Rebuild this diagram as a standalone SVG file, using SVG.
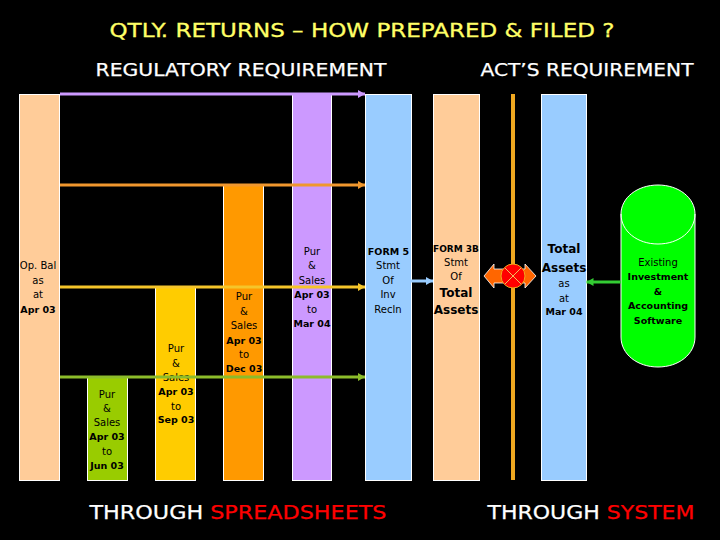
<svg xmlns="http://www.w3.org/2000/svg" width="720" height="540" viewBox="0 0 720 540">
<style>
text{font-family:"DejaVu Sans","Liberation Sans",sans-serif;text-anchor:middle;fill:#000;font-size:10px}
.b{font-weight:bold;font-size:9.5px}
.big{font-size:12px;font-weight:bold}
.h{fill:#ffff66;font-size:19.500px;stroke:#ffff66;stroke-width:.3}
.s{fill:#fff;font-size:17.5px;stroke:#fff;stroke-width:.25}
.t{font-size:20px;fill:#fff;stroke:#fff;stroke-width:.25}
.r{fill:#ff0000;stroke:#ff0000}
.col{stroke:#fff;stroke-width:1}
.ln{fill:none;stroke-width:3}
</style>
<defs>
<marker id="aP" markerUnits="userSpaceOnUse" markerWidth="8" markerHeight="10" refX="7" refY="5" orient="auto"><path d="M0 1L7 5L0 9z" fill="#cc99ff"/></marker>
<marker id="aO" markerUnits="userSpaceOnUse" markerWidth="8" markerHeight="10" refX="7" refY="5" orient="auto"><path d="M0 1L7 5L0 9z" fill="#f0972e"/></marker>
<marker id="aY" markerUnits="userSpaceOnUse" markerWidth="8" markerHeight="10" refX="7" refY="5" orient="auto"><path d="M0 1L7 5L0 9z" fill="#f5c52a"/></marker>
<marker id="aG" markerUnits="userSpaceOnUse" markerWidth="8" markerHeight="10" refX="7" refY="5" orient="auto"><path d="M0 1L7 5L0 9z" fill="#8cbc2a"/></marker>
<marker id="aB" markerUnits="userSpaceOnUse" markerWidth="8" markerHeight="10" refX="7" refY="5" orient="auto"><path d="M0 1L7 5L0 9z" fill="#99ccff"/></marker>
<marker id="aL" markerUnits="userSpaceOnUse" markerWidth="8" markerHeight="10" refX="7" refY="5" orient="auto"><path d="M0 1L7 5L0 9z" fill="#33cc33"/></marker>
</defs>
<rect width="720" height="540" fill="#000"/>
<text class="h" x="362" y="37" textLength="505" lengthAdjust="spacingAndGlyphs">QTLY. RETURNS – HOW PREPARED &amp; FILED ?</text>
<text class="s" x="241" y="76" textLength="291" lengthAdjust="spacingAndGlyphs">REGULATORY REQUIREMENT</text>
<text class="s" x="587" y="76" textLength="213" lengthAdjust="spacingAndGlyphs">ACT’S REQUIREMENT</text>

<g id="opening"><rect class="col" x="19.5" y="94.5" width="40" height="386" fill="#ffcc99"/>
<text x="38" y="269">Op. Bal</text><text x="38" y="284">as</text><text x="38" y="298">at</text><text class="b" x="38" y="313">Apr 03</text></g>
<g id="q1"><rect class="col" x="87.5" y="377.5" width="40" height="103" fill="#99cc00"/>
<text x="107" y="398">Pur</text><text x="107" y="412">&amp;</text><text x="107" y="426">Sales</text><text class="b" x="107" y="440">Apr 03</text><text x="107" y="455">to</text><text class="b" x="107" y="469">Jun 03</text></g>
<g id="q2"><rect class="col" x="155.5" y="287.5" width="40" height="193" fill="#ffcc00"/>
<text x="176" y="352">Pur</text><text x="176" y="367">&amp;</text><text x="176" y="381">Sales</text><text class="b" x="176" y="395">Apr 03</text><text x="176" y="410">to</text><text class="b" x="176" y="423">Sep 03</text></g>
<g id="q3"><rect class="col" x="223.5" y="185.5" width="40" height="295" fill="#ff9900"/>
<text x="244" y="300">Pur</text><text x="244" y="315">&amp;</text><text x="244" y="329">Sales</text><text class="b" x="244" y="344">Apr 03</text><text x="244" y="358">to</text><text class="b" x="244" y="372">Dec 03</text></g>
<g id="q4"><rect class="col" x="292.5" y="94.5" width="39" height="386" fill="#cc99ff"/>
<text x="312" y="255">Pur</text><text x="312" y="269">&amp;</text><text x="312" y="284">Sales</text><text class="b" x="312" y="298">Apr 03</text><text x="312" y="313">to</text><text class="b" x="312" y="327">Mar 04</text></g>
<g id="form5"><rect class="col" x="365.5" y="94.5" width="46" height="386" fill="#99ccff"/>
<text class="b" x="388.500" y="255">FORM 5</text><text x="388" y="269">Stmt</text><text x="388" y="284">Of</text><text x="388" y="298">Inv</text><text x="388" y="313">Recln</text></g>
<g id="form3b"><rect class="col" x="433.5" y="94.500" width="46" height="386" fill="#ffcc99"/>
<text class="b" x="456" y="252" style="font-size:9px">FORM 3B</text><text x="456" y="266">Stmt</text><text x="456" y="280">Of</text><text class="big" x="456" y="297">Total</text><text class="big" x="456" y="314">Assets</text></g>
<g id="divider"><rect x="511" y="94" width="4" height="386" fill="#f0a820"/></g>
<g id="total"><rect class="col" x="541.500" y="94.500" width="45" height="386" fill="#99ccff"/>
<text class="big" x="564" y="253">Total</text><text class="big" x="564" y="272">Assets</text><text x="564" y="287">as</text><text x="564" y="302">at</text><text class="b" x="564" y="315">Mar 04</text></g>
<g id="software"><path d="M621 214C621 198 637 185 658 185S695 198 695 214V337C695 354 679 367 658 367S621 354 621 337Z" fill="#00ff00" stroke="#fff"/>
<path d="M621 214C621 231 637 244 658 244S695 231 695 214" fill="none" stroke="#fff"/>
<text x="658" y="266">Existing</text><text class="b" x="658" y="280">Investment</text><text class="b" x="658" y="295">&amp;</text><text class="b" x="658" y="309">Accounting</text><text class="b" x="658" y="324">Software</text></g>

<g id="connectors">
<path class="ln" d="M60 94H365" stroke="#cc99ff" marker-end="url(#aP)"/>
<path class="ln" d="M60 185H365" stroke="#f0972e" marker-end="url(#aO)"/>
<path class="ln" d="M60 287H365" stroke="#f5c52a" marker-end="url(#aY)"/>
<path class="ln" d="M60 377H365" stroke="#8cbc2a" marker-end="url(#aG)"/>
<path class="ln" d="M411 281H433" stroke-width="4" stroke="#99ccff" marker-end="url(#aB)"/>
<path class="ln" d="M621 282H586.500" stroke="#33cc33" marker-end="url(#aL)"/>
<path d="M484 276L494 264V269H525V264L536 276L525 288V283H494V288Z" fill="#ff6600" stroke="#fff" stroke-width="0.8"/>
<circle cx="513" cy="276" r="12" fill="#ff0000" stroke="#f0a820"/>
<path d="M505 268L521 284M521 268L505 284" stroke="#f0c060" stroke-width="1"/>
</g>
<text class="t" x="238" y="519" textLength="297" lengthAdjust="spacingAndGlyphs">THROUGH <tspan class="r">SPREADSHEETS</tspan></text>
<text class="t" x="591" y="519" textLength="207" lengthAdjust="spacingAndGlyphs">THROUGH <tspan class="r">SYSTEM</tspan></text>
</svg>
